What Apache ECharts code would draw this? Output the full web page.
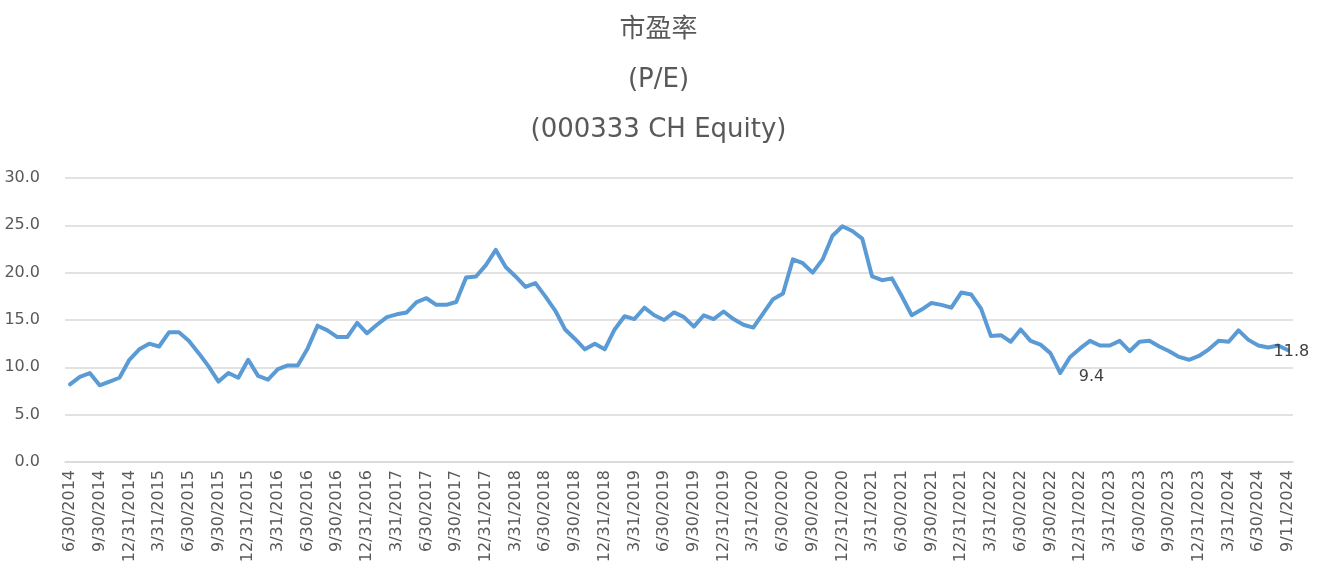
<!DOCTYPE html>
<html>
<head>
<meta charset="utf-8">
<script src="https://cdn.jsdelivr.net/npm/echarts@6/dist/echarts.min.js"></script>
<style>html,body{margin:0;padding:0;background:#fff;}#chart{width:1317px;height:586px;}</style>
</head>
<body>
<div id="chart"></div>
<script>
var titleText = '市盈率\n(P/E)\n(000333 CH Equity)';

var dates = [
'6/30/2014','7/31/2014','8/31/2014','9/30/2014','10/31/2014','11/30/2014','12/31/2014',
'1/31/2015','2/28/2015','3/31/2015','4/30/2015','5/31/2015','6/30/2015','7/31/2015','8/31/2015','9/30/2015','10/31/2015','11/30/2015','12/31/2015',
'1/31/2016','2/29/2016','3/31/2016','4/30/2016','5/31/2016','6/30/2016','7/31/2016','8/31/2016','9/30/2016','10/31/2016','11/30/2016','12/31/2016',
'1/31/2017','2/28/2017','3/31/2017','4/30/2017','5/31/2017','6/30/2017','7/31/2017','8/31/2017','9/30/2017','10/31/2017','11/30/2017','12/31/2017',
'1/31/2018','2/28/2018','3/31/2018','4/30/2018','5/31/2018','6/30/2018','7/31/2018','8/31/2018','9/30/2018','10/31/2018','11/30/2018','12/31/2018',
'1/31/2019','2/28/2019','3/31/2019','4/30/2019','5/31/2019','6/30/2019','7/31/2019','8/31/2019','9/30/2019','10/31/2019','11/30/2019','12/31/2019',
'1/31/2020','2/29/2020','3/31/2020','4/30/2020','5/31/2020','6/30/2020','7/31/2020','8/31/2020','9/30/2020','10/31/2020','11/30/2020','12/31/2020',
'1/31/2021','2/28/2021','3/31/2021','4/30/2021','5/31/2021','6/30/2021','7/31/2021','8/31/2021','9/30/2021','10/31/2021','11/30/2021','12/31/2021',
'1/31/2022','2/28/2022','3/31/2022','4/30/2022','5/31/2022','6/30/2022','7/31/2022','8/31/2022','9/30/2022','10/31/2022','11/30/2022','12/31/2022',
'1/31/2023','2/28/2023','3/31/2023','4/30/2023','5/31/2023','6/30/2023','7/31/2023','8/31/2023','9/30/2023','10/31/2023','11/30/2023','12/31/2023',
'1/31/2024','2/29/2024','3/31/2024','4/30/2024','5/31/2024','6/30/2024','7/31/2024','8/31/2024','9/11/2024'
];

var peValues = [
8.2,9.0,9.4,8.1,8.5,8.9,10.8,
11.9,12.5,12.2,13.7,13.7,12.8,11.5,10.1,8.5,9.4,8.9,10.8,
9.1,8.7,9.8,10.2,10.2,12.0,14.4,13.9,13.2,13.2,14.7,13.6,
14.5,15.3,15.6,15.8,16.9,17.3,16.6,16.6,16.9,19.5,19.6,20.8,
22.4,20.6,19.6,18.5,18.9,17.5,16.0,14.0,13.0,11.9,12.5,11.9,
14.0,15.4,15.1,16.3,15.5,15.0,15.8,15.3,14.3,15.5,15.1,15.9,
15.1,14.5,14.2,15.7,17.2,17.8,21.4,21.0,20.0,21.4,23.9,24.9,
24.4,23.6,19.6,19.2,19.4,17.5,15.5,16.1,16.8,16.6,16.3,17.9,
17.7,16.2,13.3,13.4,12.7,14.0,12.8,12.4,11.5,9.4,11.1,12.0,
12.8,12.3,12.3,12.8,11.7,12.7,12.8,12.2,11.7,11.1,10.8,11.2,
11.9,12.8,12.7,13.9,12.9,12.3,12.1,12.3,11.8
];

var yTicks = [0, 5, 10, 15, 20, 25, 30];
var lowIdx = 100;
var lastIdx = 123;

var labelStyle = {
  show: true,
  align: 'left',
  verticalAlign: 'middle',
  fontFamily: 'DejaVu Sans, sans-serif',
  fontSize: 16,
  color: '#404040'
};

var seriesData = peValues.map(function (v, i) {
  if (i === lowIdx) {
    return { value: v, label: Object.assign({}, labelStyle, { position: [19, 4] }) };
  }
  if (i === lastIdx) {
    return { value: v, label: Object.assign({}, labelStyle, { position: [-14, 2] }) };
  }
  return v;
});

var chart = echarts.init(document.getElementById('chart'), null, { renderer: 'canvas' });
chart.setOption({
  animation: false,
  backgroundColor: '#ffffff',
  title: {
    text: titleText,
    left: 'center',
    top: 0,
    textStyle: {
      fontFamily: 'DejaVu Sans, Noto Sans CJK SC, sans-serif',
      fontSize: 26,
      fontWeight: 'normal',
      color: '#595959',
      lineHeight: 50
    }
  },
  grid: { left: 65, right: 24, top: 178, bottom: 124, containLabel: false },
  xAxis: {
    type: 'category',
    data: dates,
    boundaryGap: true,
    axisLine: { show: true, lineStyle: { color: '#d9d9d9', width: 1.5 } },
    axisTick: { show: false },
    axisLabel: {
      interval: 2,
      rotate: 90,
      margin: 8,
      fontFamily: 'DejaVu Sans, sans-serif',
      fontSize: 16,
      color: '#595959'
    },
    splitLine: { show: false }
  },
  yAxis: {
    type: 'value',
    min: yTicks[0],
    max: yTicks[yTicks.length - 1],
    interval: 5,
    axisLine: { show: false },
    axisTick: { show: false },
    axisLabel: {
      margin: 25,
      fontFamily: 'DejaVu Sans, sans-serif',
      fontSize: 16,
      color: '#595959',
      formatter: function (v) { return v.toFixed(1); }
    },
    splitLine: { show: true, lineStyle: { color: '#d9d9d9', width: 1.5 } }
  },
  series: [{
    type: 'line',
    data: seriesData,
    showSymbol: true,
    showAllSymbol: true,
    symbol: 'circle',
    symbolSize: 1,
    clip: false,
    lineStyle: { color: '#5b9bd5', width: 4, join: 'round', cap: 'round' },
    itemStyle: { color: 'rgba(91,155,213,0)', borderWidth: 0 },
    emphasis: { disabled: true },
    labelLayout: { hideOverlap: false },
    label: {
      show: false,
      formatter: function (p) { return p.value.toFixed(1); }
    }
  }]
});
</script>
</body>
</html>
